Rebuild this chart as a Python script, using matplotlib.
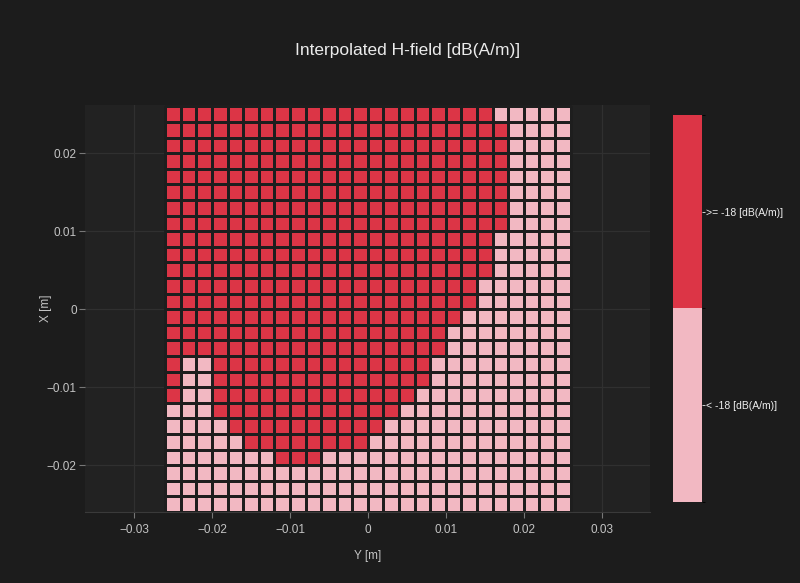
import numpy as np
import matplotlib
matplotlib.use("Agg")
import matplotlib.pyplot as plt
from matplotlib.colors import ListedColormap, BoundaryNorm

# ---- data ----
# Cell centres (m)
y_centers = [-0.025 + 0.002 * i for i in range(26)]   # horizontal axis "Y [m]"
x_centers = [-0.025 + 0.002 * i for i in range(26)]   # vertical axis "X [m]"

# Classification per cell: 1 = ">= -18 dB(A/m)", 0 = "< -18 dB(A/m)"
# rows listed from top (X = +0.025) to bottom (X = -0.025), columns left (Y=-0.025) to right
rows_top_to_bottom = [
    "11111111111111111111100000",
    "11111111111111111111110000",
    "11111111111111111111110000",
    "11111111111111111111110000",
    "11111111111111111111110000",
    "11111111111111111111110000",
    "11111111111111111111110000",
    "11111111111111111111110000",
    "11111111111111111111100000",
    "11111111111111111111100000",
    "11111111111111111111100000",
    "11111111111111111111000000",
    "11111111111111111111000000",
    "11111111111111111110000000",
    "11111111111111111100000000",
    "11111111111111111100000000",
    "10011111111111111000000000",
    "10011111111111111000000000",
    "10011111111111110000000000",
    "00011111111111100000000000",
    "00001111111111000000000000",
    "00000111111110000000000000",
    "00000001110000000000000000",
    "00000000000000000000000000",
    "00000000000000000000000000",
    "00000000000000000000000000",
]
class_labels = ["< -18 [dB(A/m)]", ">= -18 [dB(A/m)]"]
class_colors = ["#f2b8c2", "#dc3546"]
x_ticks = [-0.03, -0.02, -0.01, 0, 0.01, 0.02, 0.03]
y_ticks = [-0.02, -0.01, 0, 0.01, 0.02]

# ---- build arrays ----
grid = np.array([[int(c) for c in r] for r in rows_top_to_bottom[::-1]])
yc = np.array(y_centers)
xc = np.array(x_centers)
y_edges = np.concatenate([yc - 0.001, [yc[-1] + 0.001]])
x_edges = np.concatenate([xc - 0.001, [xc[-1] + 0.001]])

fig_bg = "#1c1c1c"
ax_bg = "#222222"
txt = "#c4c4c4"

plt.rcParams['font.family'] = ['Liberation Sans', 'DejaVu Sans']
fig = plt.figure(figsize=(8, 5.83), dpi=100, facecolor=fig_bg)
ax = fig.add_axes([0.10625, 0.1218, 0.70625, 0.6982])
ax.set_facecolor(ax_bg)

cmap = ListedColormap(class_colors)
norm = BoundaryNorm([-0.5, 0.5, 1.5], 2)
mesh = ax.pcolormesh(y_edges, x_edges, grid, cmap=cmap, norm=norm,
                     edgecolors="#1e1e1e", linewidth=1.0)

ax.set_xlim(-0.0363, 0.0362)
ax.set_ylim(-0.026, 0.0262)
ax.set_xticks(x_ticks)
ax.set_yticks(y_ticks)
ax.set_xticklabels(["\u22120.03", "\u22120.02", "\u22120.01", "0", "0.01", "0.02", "0.03"])
ax.set_yticklabels(["\u22120.02", "\u22120.01", "0", "0.01", "0.02"])
ax.grid(True, color="#303030", linewidth=0.9)
ax.set_axisbelow(True)
for s in ax.spines.values():
    s.set_visible(False)
ax.spines['bottom'].set_visible(True)
ax.spines['bottom'].set_color("#3a3a3a")
ax.tick_params(labelsize=8.5, length=4, width=0.8)
ax.tick_params(axis='x', colors="#777777", labelcolor=txt, pad=5)
ax.tick_params(axis='y', colors="#777777", labelcolor=txt, pad=2)
ax.set_xlabel("Y [m]", color=txt, fontsize=8.5, labelpad=10)
ax.set_ylabel("X [m]", color=txt, fontsize=8.5)
ax.yaxis.set_label_coords(-0.058, 0.5)

fig.text(0.51, 0.914, "Interpolated H-field [dB(A/m)]", color="#ebebeb",
         fontsize=12.5, ha="center", va="center")

cax = fig.add_axes([0.841, 0.139, 0.036, 0.664])
cb = fig.colorbar(mesh, cax=cax, ticks=[0, 1])
cb.set_ticklabels(class_labels)
cb.outline.set_visible(False)
cax.tick_params(colors="#eeeeee", labelsize=7.5, length=2, width=0.6, pad=1)

fig.savefig("out.png", dpi=100, facecolor=fig_bg)
